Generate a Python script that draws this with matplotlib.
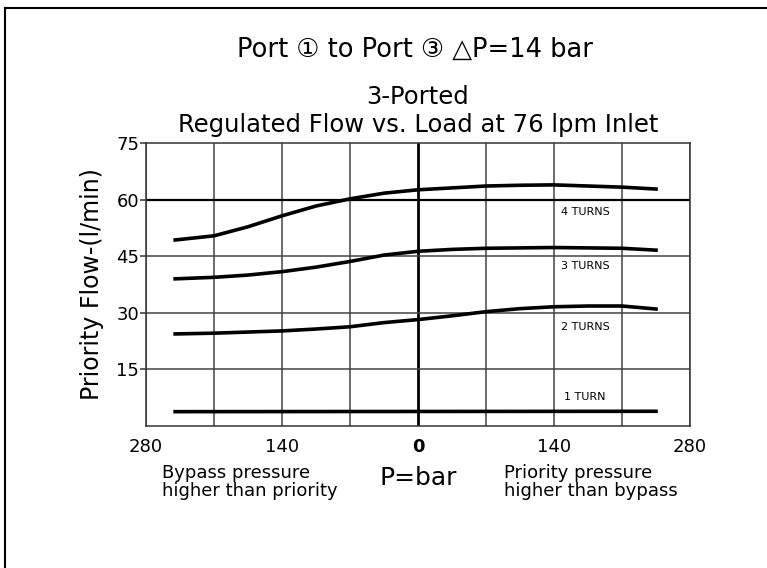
import matplotlib
matplotlib.use("Agg")
import matplotlib.pyplot as plt
from matplotlib.lines import Line2D

plt.rcParams["font.family"] = ["DejaVu Sans"]

# bypass side negative, priority side positive (bar)
pressure = [-250, -210, -175, -140, -105, -70, -35, 0, 35, 70, 105, 140, 175, 210, 245]
flow_4_turns = [49.3, 50.4, 52.8, 55.7, 58.3, 60.2, 61.7, 62.6, 63.1, 63.6, 63.8, 63.9, 63.6, 63.3, 62.8]
flow_3_turns = [39.0, 39.4, 40.0, 40.9, 42.1, 43.6, 45.3, 46.3, 46.8, 47.1, 47.2, 47.3, 47.2, 47.1, 46.6]
flow_2_turns = [24.4, 24.6, 24.9, 25.2, 25.7, 26.3, 27.4, 28.2, 29.2, 30.3, 31.1, 31.6, 31.8, 31.8, 31.0]
pressure_1 = [-250, 245]
flow_1_turn = [3.8, 3.9]

turn_labels = ["4 TURNS", "3 TURNS", "2 TURNS", "1 TURN"]
label_y = [56.7, 42.4, 26.2, 7.7]

x_ticks = [-280, -140, 0, 140, 280]
x_ticklabels = ["280", "140", "0", "140", "280"]
y_ticks = [15, 30, 45, 60, 75]

fig = plt.figure(figsize=(7.67, 5.68), dpi=100)
ax = fig.add_axes([146 / 767, 1 - 426 / 568, 544 / 767, 283 / 568])

# grid
for gx in range(-280, 281, 70):
    if gx == 0:
        ax.axvline(gx, color="black", lw=2.0, zorder=1)
    else:
        ax.axvline(gx, color="#444444", lw=1.1, zorder=1)
for gy in [15, 30, 45, 60]:
    if gy == 60:
        ax.axhline(gy, color="black", lw=1.6, zorder=1)
    else:
        ax.axhline(gy, color="#444444", lw=1.1, zorder=1)

ax.plot(pressure, flow_4_turns, color="black", lw=2.6, zorder=3)
ax.plot(pressure, flow_3_turns, color="black", lw=2.6, zorder=3)
ax.plot(pressure, flow_2_turns, color="black", lw=2.6, zorder=3)
ax.plot(pressure_1, flow_1_turn, color="black", lw=2.6, zorder=3)

for lab, ly in zip(turn_labels, label_y):
    ax.text(172, ly, lab, fontsize=8, ha="center", va="center")

ax.set_xlim(-280, 280)
ax.set_ylim(0, 75)
ax.set_xticks(x_ticks)
ax.set_xticklabels(x_ticklabels)
ax.set_yticks(y_ticks)
ax.tick_params(labelsize=13)
ax.tick_params(axis="x", length=0, pad=9)
ax.tick_params(axis="y", length=4, width=1.1, color="#333333", pad=1)
ax.get_xticklabels()[2].set_fontweight("bold")
for s in ax.spines.values():
    s.set_color("#333333")
    s.set_linewidth(1.1)

ax.set_ylabel("Priority Flow-(l/min)", fontsize=17, labelpad=9)

fig.text(415 / 767, 1 - 50 / 568, "Port \u2460 to Port \u2462 \u25b3P=14 bar",
         fontsize=18.5, ha="center", va="center")
fig.text(418 / 767, 1 - 97 / 568, "3-Ported", fontsize=17.5, ha="center", va="center")
fig.text(418 / 767, 1 - 125 / 568, "Regulated Flow vs. Load at 76 lpm Inlet",
         fontsize=17.5, ha="center", va="center")

fig.text(162 / 767, 1 - 482 / 568, "Bypass pressure\nhigher than priority",
         fontsize=13, ha="left", va="center", linespacing=0.95)
fig.text(418 / 767, 1 - 478 / 568, "P=bar", fontsize=18, ha="center", va="center")
fig.text(504 / 767, 1 - 482 / 568, "Priority pressure\nhigher than bypass",
         fontsize=13, ha="left", va="center", linespacing=0.95)

# page border (left and top edges)
fig.add_artist(Line2D([5 / 767, 5 / 767], [0, 1 - 8 / 568], transform=fig.transFigure,
                      color="black", lw=1.5))
fig.add_artist(Line2D([5 / 767, 1], [1 - 8 / 568, 1 - 8 / 568], transform=fig.transFigure,
                      color="black", lw=1.5))

fig.savefig("out.png", dpi=100)
